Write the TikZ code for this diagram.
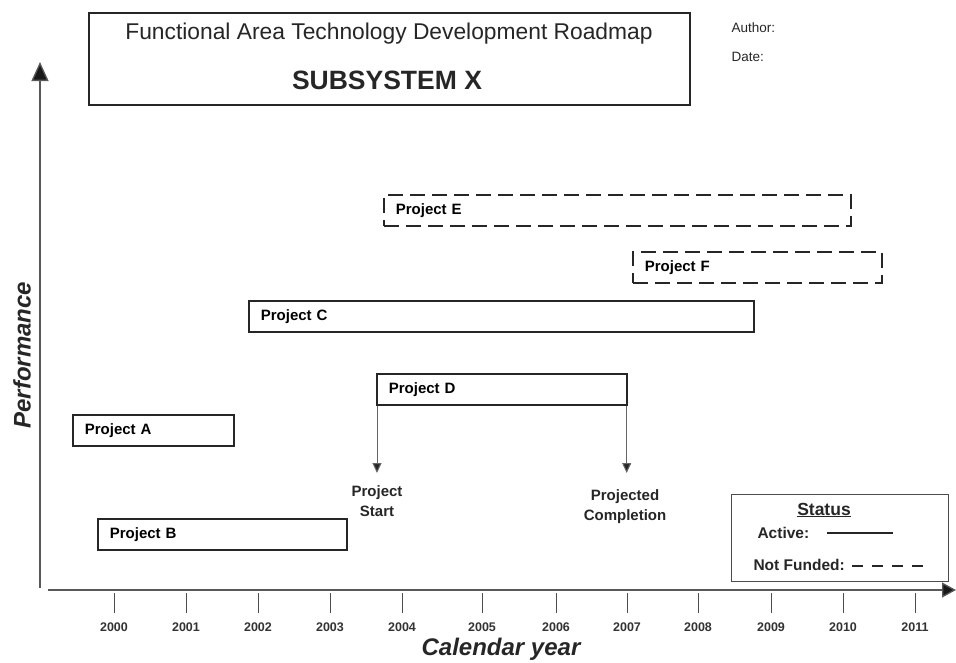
\documentclass[tikz,border=0pt]{standalone}
\usepackage{fontspec}
\setmainfont{Liberation Sans}
\usetikzlibrary{arrows.meta}
\newcommand{\fsz}[1]{\fontsize{#1}{#1}\selectfont}
\tikzset{
  boxline/.style={draw=black!85, line width=1.7pt},
  proj/.style={boxline, minimum height=31pt, inner xsep=12pt, inner ysep=0pt,
    text width=#1, align=left, anchor=north west, font=\fsz{15}\bfseries},
  planned/.style={proj=#1, dash pattern=on 15pt off 7pt},
  axisline/.style={draw=black!65, line width=1.3pt},
  tick/.style={draw=black!70, line width=1pt},
  year/.style={font=\fsz{12.5}\bfseries, text=black!80},
  axlabel/.style={font=\fsz{24}\bfseries\itshape, text=black!85},
  note/.style={font=\fsz{15}\bfseries, align=center, text=black!85},
  legendtxt/.style={font=\fsz{15.5}\bfseries, text=black!85, anchor=west},
  marker/.style={draw=black!60, line width=1pt, shorten >=9pt,
    -{Triangle[width=9pt,length=10pt,fill=black!85]}},
}
\begin{document}
\begin{tikzpicture}[x=1pt,y=-1pt]
\useasboundingbox (0,0) rectangle (956,662);

% title block
\node[draw=black!85, line width=2pt, minimum width=601pt, minimum height=92pt, anchor=north west] (title) at (88,12) {};
\node[font=\fsz{22.8}, text=black!85] (t1) at (389,34) {Functional Area Technology Development Roadmap};
\node[font=\fsz{26.5}\bfseries, text=black!85] (t2) at (387,80) {SUBSYSTEM X};
\node[font=\fsz{13.5}, text=black!85, anchor=west] (auth) at (728,28) {Author:};
\node[font=\fsz{13.5}, text=black!85, anchor=west] (date) at (728,57) {Date:};

% axes
\coordinate (yb) at (40,588);
\coordinate (yt) at (40,62);
\coordinate (xl) at (48,590);
\coordinate (xr) at (956,590);
\draw[axisline, -{Triangle[width=17pt,length=19pt,fill=black!90]}] (yb) -- (yt);
\draw[axisline, -{Triangle[width=15pt,length=14pt,fill=black!90]}] (xl) -- (xr);
\node[axlabel, rotate=90] (perf) at (22,355) {Performance};
\node[axlabel] (cal) at (501,649) {Calendar year};

% year ticks
\foreach \yr/\xx in {2000/114,2001/186,2002/258,2003/330,2004/402,2005/482,
                     2006/556,2007/627,2008/698,2009/771,2010/843,2011/915}{
  \draw[tick] (\xx,593) -- (\xx,613);
  \node[year] (y\yr) at (\xx,627) {\yr};
}

% projects
\node[planned=443pt] (E) at (383,194) {Project E};
\node[planned=225pt] (F) at (632,251) {Project F};
\node[proj=481pt] (C) at (248,300) {Project C};
\node[proj=226pt] (D) at (376,373) {Project D};
\node[proj=137pt] (A) at (72,414) {Project A};
\node[proj=225pt] (B) at (97,518) {Project B};

% start / completion markers
\node[note, anchor=north] (ps) at (377,482) {Project\\[5pt]Start};
\node[note, anchor=north] (pc) at (625,486) {Projected\\[5pt]Completion};
\draw[marker] ([xshift=1pt]D.south west) -- ([xshift=1pt]D.south west |- ps.north);
\draw[marker, shorten >=13pt] ([xshift=-1pt]D.south east) -- ([xshift=-1pt]D.south east |- pc.north);

% legend
\node[draw=black!70, line width=1.2pt, minimum width=217pt, minimum height=87pt, anchor=north west] (status) at (731,494) {};
\node[font=\fsz{17.5}\bfseries, text=black!85] (st) at (824,510) {\underline{Status}};
\node[legendtxt] (act) at (754,533) {Active:};
\node[legendtxt] (nf) at (750,565) {Not Funded:};
\coordinate (a1) at (827,533);
\coordinate (a2) at (893,533);
\coordinate (n1) at (852,566);
\coordinate (n2) at (924,566);
\draw[draw=black!85, line width=2pt] (a1) -- (a2);
\draw[draw=black!85, line width=2pt, dash pattern=on 11pt off 9pt] (n1) -- (n2);
\end{tikzpicture}
\end{document}
